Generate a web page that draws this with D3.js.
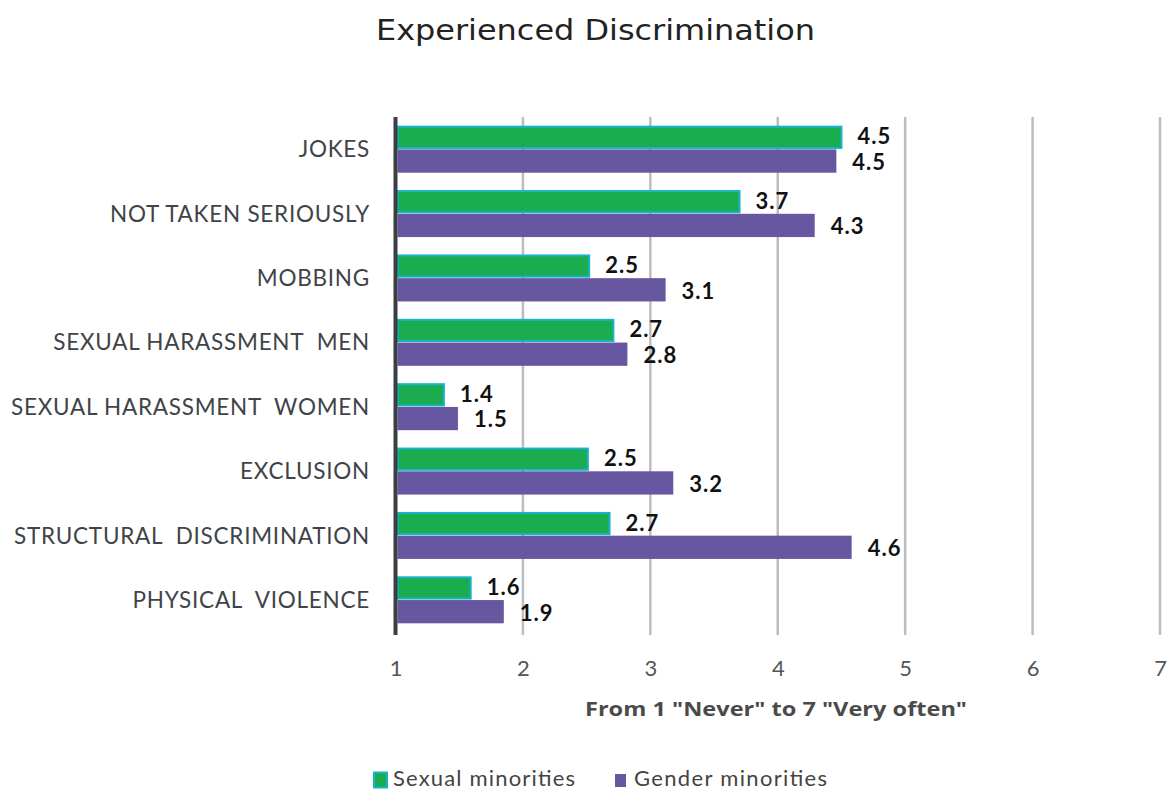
<!DOCTYPE html>
<html>
<head>
<meta charset="utf-8">
<script src="https://cdn.jsdelivr.net/npm/d3@7/dist/d3.min.js"></script>
<style>
  html, body { margin: 0; padding: 0; background: #fff; }
  svg { display: block; }
  text { white-space: pre; }
</style>
</head>
<body>
<svg id="chart" width="1170" height="791"></svg>
<script>
const categories = [
  "JOKES",
  "NOT TAKEN SERIOUSLY",
  "MOBBING",
  "SEXUAL HARASSMENT  MEN",
  "SEXUAL HARASSMENT  WOMEN",
  "EXCLUSION",
  "STRUCTURAL  DISCRIMINATION",
  "PHYSICAL  VIOLENCE"
];
const seriesNames = ["Sexual minorities", "Gender minorities"];
const sexualMinorities = [4.50, 3.70, 2.52, 2.71, 1.38, 2.51, 2.68, 1.59];
const genderMinorities = [4.46, 4.29, 3.12, 2.82, 1.49, 3.18, 4.58, 1.85];
const xTicks = [1, 2, 3, 4, 5, 6, 7];
const title = "Experienced Discrimination";
const xTitle = 'From 1 "Never" to 7 "Very often"';

const svg = d3.select("#chart");
const FONT = "Lato, 'Open Sans', sans-serif";

const x = d3.scaleLinear().domain([1, 7]).range([395.5, 1160]);
const y = d3.scaleBand().domain(categories).range([117, 632]).paddingInner(0.27).paddingOuter(0.135);
const sub = d3.scaleBand().domain(seriesNames).range([0, y.bandwidth()]).paddingInner(0.02);

// title
svg.append("text")
  .attr("x", 376).attr("y", 40)
  .attr("font-family", "'DejaVu Sans', sans-serif")
  .attr("font-size", 29)
  .attr("fill", "#222")
  .attr("textLength", 439)
  .attr("lengthAdjust", "spacingAndGlyphs")
  .text(title);

// gridlines
svg.append("g").selectAll("line")
  .data(xTicks.slice(1))
  .join("line")
  .attr("x1", d => x(d)).attr("x2", d => x(d))
  .attr("y1", 117).attr("y2", 635)
  .attr("stroke", "#bdbdbd")
  .attr("stroke-width", 2.5);

// tick labels via axis
const xAxis = d3.axisBottom(x).tickValues(xTicks).tickSize(0).tickPadding(0).tickFormat(d3.format("d"));
const gx = svg.append("g").attr("transform", "translate(0,676)").call(xAxis);
gx.select(".domain").remove();
gx.selectAll("text")
  .attr("dy", 0)
  .attr("y", 0)
  .attr("font-family", FONT)
  .attr("font-size", 22)
  .attr("font-weight", 400)
  .attr("fill", "#555");

// x title
svg.append("text")
  .attr("x", 585).attr("y", 716)
  .attr("font-family", "'Open Sans', sans-serif")
  .attr("font-size", 20)
  .attr("font-weight", 700)
  .attr("fill", "#4a4a4a")
  .attr("textLength", 382)
  .attr("lengthAdjust", "spacingAndGlyphs")
  .text(xTitle);

// category labels via axis
const yAxis = d3.axisLeft(y).tickSize(0).tickPadding(0);
const gy = svg.append("g").attr("transform", "translate(370,0)").call(yAxis);
gy.select(".domain").remove();
gy.selectAll("text")
  .attr("font-family", FONT)
  .attr("font-size", 22.5)
  .attr("font-weight", 400)
  .attr("letter-spacing", 0.75)
  .attr("fill", "#404448")
  .attr("dy", "0.36em");

// bars
const rows = categories.map((c, i) => ({ cat: c, vals: [sexualMinorities[i], genderMinorities[i]] }));
const groups = svg.append("g").selectAll("g")
  .data(rows)
  .join("g")
  .attr("transform", d => `translate(0,${y(d.cat)})`);

const fills = ["#1aac4e", "#6657a0"];
const strokes = ["#19b3cb", "#6657a0"];

groups.selectAll("rect")
  .data(d => d.vals.map((v, j) => ({ v, s: seriesNames[j], j })))
  .join("rect")
  .attr("x", x(1) + 2)
  .attr("y", d => sub(d.s) + (d.j === 0 ? 1 : 0))
  .attr("width", d => x(d.v) - x(1) - 2)
  .attr("height", d => sub.bandwidth() - (d.j === 0 ? 2 : 0))
  .attr("fill", d => fills[d.j])
  .attr("stroke", d => d.j === 0 ? strokes[0] : "none")
  .attr("stroke-width", 2);

groups.selectAll("text.val")
  .data(d => d.vals.map((v, j) => ({ v, s: seriesNames[j], j })))
  .join("text")
  .attr("class", "val")
  .attr("x", d => x(d.v) + 16)
  .attr("y", d => sub(d.s) + sub.bandwidth() / 2 + (d.j === 0 ? -1 : 1))
  .attr("dy", "0.36em")
  .attr("font-family", FONT)
  .attr("font-size", 22)
  .attr("font-weight", 700)
  .attr("letter-spacing", 1)
  .attr("fill", "#111")
  .text(d => d3.format(".1f")(d.v));

// axis line at 1
svg.append("line")
  .attr("x1", x(1)).attr("x2", x(1))
  .attr("y1", 117).attr("y2", 635)
  .attr("stroke", "#3a3f44")
  .attr("stroke-width", 4);

// legend
const legend = svg.append("g");
legend.append("rect").attr("x", 374).attr("y", 772.5).attr("width", 13).attr("height", 15)
  .attr("fill", fills[0]).attr("stroke", strokes[0]).attr("stroke-width", 2);
legend.append("text").attr("x", 393).attr("y", 786)
  .attr("font-family", FONT).attr("font-size", 22).attr("fill", "#444")
  .attr("textLength", 182).attr("lengthAdjust", "spacing")
  .text(seriesNames[0]);
legend.append("rect").attr("x", 615).attr("y", 774).attr("width", 11).attr("height", 13)
  .attr("fill", fills[1]);
legend.append("text").attr("x", 634).attr("y", 786)
  .attr("font-family", FONT).attr("font-size", 22).attr("fill", "#444")
  .attr("textLength", 193).attr("lengthAdjust", "spacing")
  .text(seriesNames[1]);
</script>
</body>
</html>
